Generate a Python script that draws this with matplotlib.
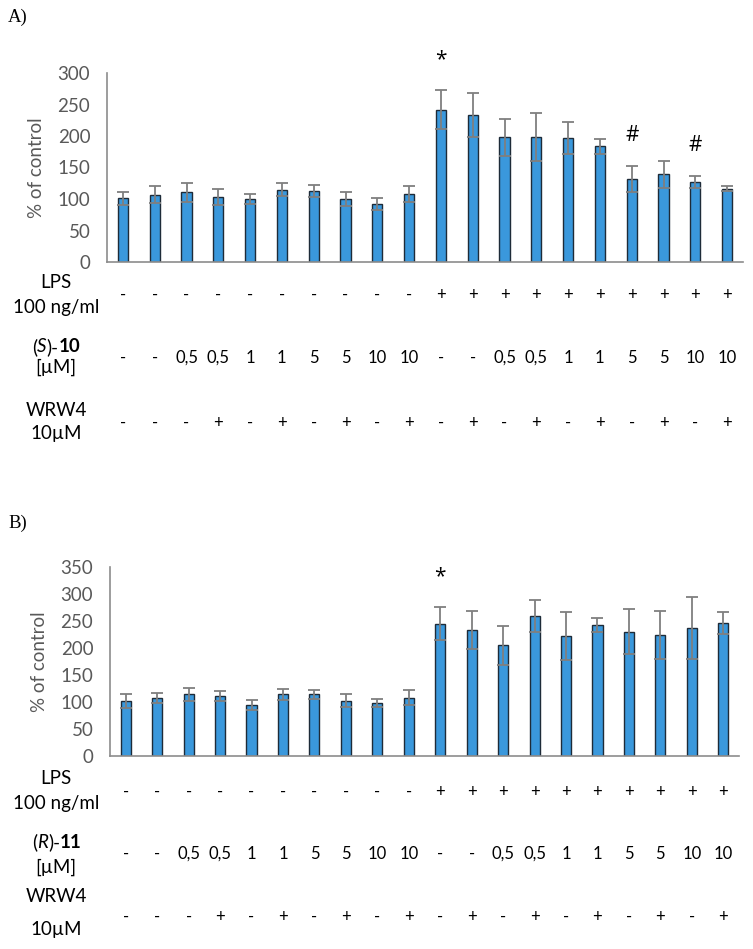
import numpy as np
import matplotlib
matplotlib.use("Agg")
import matplotlib.pyplot as plt
import matplotlib.transforms as mtransforms

# ---------------- data ----------------
lps_row = ["-"] * 10 + ["+"] * 10
conc_row = ["-", "-", "0,5", "0,5", "1", "1", "5", "5", "10", "10",
            "-", "-", "0,5", "0,5", "1", "1", "5", "5", "10", "10"]
wrw_row = ["-", "-", "-", "+", "-", "+", "-", "+", "-", "+",
           "-", "+", "-", "+", "-", "+", "-", "+", "-", "+"]

a_mean = [101, 107, 111, 103, 100, 115, 113, 100, 92, 108,
          242, 233, 198, 198, 197, 184, 132, 139, 127, 116]
a_err = [10, 13, 15, 13, 8, 11, 10, 11, 10, 13,
         31, 35, 29, 38, 26, 12, 21, 22, 9, 4]
a_marks = [(10, "*"), (16, "#"), (18, "#")]

b_mean = [102, 107, 114, 111, 95, 114, 114, 102, 98, 108,
          245, 234, 205, 259, 222, 242, 230, 224, 237, 246]
b_err = [13, 9, 12, 9, 9, 11, 9, 12, 8, 14,
         31, 35, 36, 30, 45, 13, 42, 44, 58, 20]
b_marks = [(10, "*")]

a_yticks = [0, 50, 100, 150, 200, 250, 300]
b_yticks = [0, 50, 100, 150, 200, 250, 300, 350]

# ---------------- style ----------------
W, H = 753, 949
plt.rcParams["font.family"] = ["Lato", "DejaVu Sans"]
BAR = "#3A98DC"
EDGE = "#1E2B38"
GRAY = "#595959"
ERR = "#7F7F7F"
LFS = 13.5   # row label font size
VFS = 12     # row value font size

fig = plt.figure(figsize=(W / 100, H / 100), dpi=100)


def px_box(l, t, r, b):
    return [l / W, 1 - b / H, (r - l) / W, (b - t) / H]


def panel(box, mean, err, yticks, marks, letter, letter_y, compound, sub_letter,
          rows_y, lab_y):
    ax = fig.add_axes(box)
    x = np.arange(len(mean))
    ax.bar(x, mean, width=0.32, color=BAR, edgecolor=EDGE, linewidth=1.0, zorder=2)
    ax.errorbar(x, mean, yerr=err, fmt="none", ecolor=ERR, elinewidth=1.3,
                capsize=4, capthick=1.3, zorder=3)
    ax.set_xlim(-0.5, len(mean) - 0.5)
    ax.set_ylim(0, yticks[-1])
    ax.set_yticks(yticks)
    ax.set_xticks([])
    ax.tick_params(axis="y", length=0, pad=12, labelsize=13.5, labelcolor=GRAY)
    for s in ["top", "right"]:
        ax.spines[s].set_visible(False)
    for s in ["left", "bottom"]:
        ax.spines[s].set_color("#8C8C8C")
        ax.spines[s].set_linewidth(1.2)
    ax.set_ylabel("% of control", fontsize=13.5, color=GRAY)
    ax.yaxis.set_label_coords(-0.098, 0.5)
    for i, sym in marks:
        ax.annotate(sym, xy=(i, mean[i] + err[i]), xytext=(0, 22),
                    textcoords="offset points", ha="center", va="center",
                    fontsize=15, color="black", family="Open Sans")

    # panel letter
    fig.text(8 / W, 1 - letter_y / H, letter, family="Liberation Serif",
             fontsize=13.5, ha="left", va="center")

    # rows of conditions
    tr = mtransforms.blended_transform_factory(ax.transData, fig.transFigure)
    for row, yy in zip([lps_row, conc_row, wrw_row], rows_y):
        for i, s in enumerate(row):
            ax.text(i, 1 - yy / H, s, transform=tr, ha="center", va="center",
                    fontsize=VFS, color="black")

    # row labels
    cx = 56 / W
    (l1a, l1b), (l2a, l2b), (l3a, l3b) = lab_y
    fig.text(cx, 1 - l1a / H, "LPS", ha="center", va="center", fontsize=LFS)
    fig.text(cx, 1 - l1b / H, "100 ng/ml", ha="center", va="center", fontsize=LFS)
    chain = fig.text(32 / W, 1 - l2a / H, "(", ha="left", va="center", fontsize=LFS)
    for s, st, wt in [(sub_letter, "italic", "normal"), (")-", "normal", "normal"),
                      (compound, "normal", "bold")]:
        chain = ax.annotate(s, xy=(1, 0.5), xycoords=chain, ha="left", va="center",
                            fontsize=LFS, style=st, fontweight=wt,
                            annotation_clip=False)
    fig.text(cx, 1 - l2b / H, "[µM]", ha="center", va="center", fontsize=LFS)
    fig.text(cx, 1 - l3a / H, "WRW4", ha="center", va="center", fontsize=LFS)
    fig.text(cx, 1 - l3b / H, "10µM", ha="center", va="center", fontsize=LFS)
    return ax


panel(px_box(107, 73, 743, 262), a_mean, a_err, a_yticks, a_marks, "A)", 17,
      "10", "S", rows_y=[295, 358, 423],
      lab_y=[(283, 308), (347, 367), (410, 434)])
panel(px_box(110, 567, 739, 756), b_mean, b_err, b_yticks, b_marks, "B)", 523,
      "11", "R", rows_y=[792, 854, 917],
      lab_y=[(778, 803), (842, 867), (897, 930)])

fig.savefig("out.png", dpi=100, facecolor="white")
